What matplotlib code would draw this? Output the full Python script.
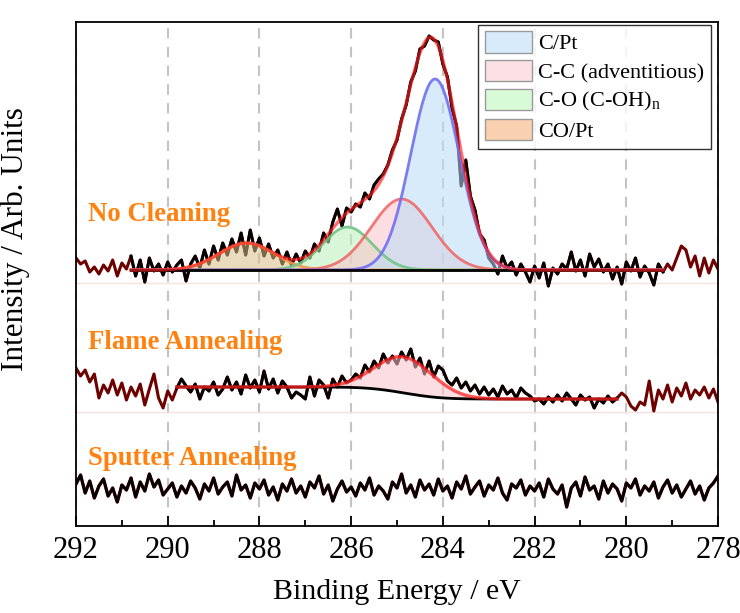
import numpy as np
import matplotlib
matplotlib.use('Agg')
import matplotlib.pyplot as plt
from matplotlib.patches import Patch
from matplotlib.ticker import MultipleLocator

plt.rcParams['font.family'] = ['Liberation Serif', 'DejaVu Serif']
plt.rcParams['mathtext.fontset'] = 'custom'
plt.rcParams['mathtext.rm'] = 'Liberation Serif'

# ---------------- data ----------------
be = np.round(np.linspace(292.0, 278.0, 141), 1)   # binding energy grid, eV

no_cleaning = [
    268, 262, 265, 254, 259, 252, 261, 255, 266, 250,
    263, 257, 270, 250, 266, 244, 268, 255, 262, 251,
    264, 254, 261, 266, 245, 262, 270, 258, 276, 262,
    280, 266, 283, 271, 287, 274, 293, 271, 296, 275,
    288, 270, 282, 268, 276, 262, 274, 261, 272, 263,
    275, 268, 282, 275, 293, 284, 304, 317, 300, 318,
    314, 322, 319, 333, 327, 341, 347, 352, 361, 376,
    386, 407, 421, 444, 455, 477, 480, 490, 486, 484,
    462, 449, 418, 400, 340, 366, 330, 316, 292, 286,
    268, 262, 252, 270, 258, 264, 251, 262, 254, 244,
    260, 248, 263, 240, 258, 252, 262, 257, 274, 255,
    266, 250, 272, 259, 267, 254, 262, 247, 259, 242,
    264, 255, 268, 249, 260, 253, 241, 262, 254, 262,
    256, 268, 280, 276, 259, 270, 250, 268, 253, 266,
    257]

flame_annealing = [
    158, 150, 156, 144, 152, 128, 141, 133, 146, 131,
    143, 126, 139, 130, 142, 121, 137, 152, 128, 118,
    135, 126, 138, 147, 140, 134, 142, 127, 139, 135,
    144, 131, 137, 149, 136, 144, 132, 151, 138, 146,
    134, 155, 137, 147, 133, 145, 139, 128, 134, 131,
    127, 149, 130, 146, 141, 128, 147, 139, 150, 143,
    146, 152, 148, 161, 154, 165, 158, 172, 163, 170,
    162, 174, 166, 177, 159, 168, 152, 165, 149, 160,
    156, 145, 141, 148, 138, 144, 135, 141, 132, 139,
    131, 137, 129, 140, 132, 136, 128, 138, 133, 130,
    125, 127, 122, 129, 124, 131, 125, 133, 127, 121,
    131, 126, 129, 118, 127, 123, 130, 124, 128, 133,
    129, 120, 116, 124, 121, 145, 115, 136, 127, 141,
    124, 138, 130, 143, 127, 136, 131, 139, 128, 137,
    124]

sputter_annealing = [
    42, 51, 33, 45, 28, 40, 47, 30, 38, 24,
    41, 36, 48, 29, 44, 35, 52, 39, 46, 31,
    37, 43, 29, 40, 33, 45, 38, 27, 42, 35,
    48, 32, 39, 44, 30, 51, 36, 41, 28, 43,
    37, 46, 31, 39, 26, 42, 35, 47, 33, 40,
    29, 44, 38, 50, 32, 41, 25, 37, 45, 34,
    39, 30, 43, 36, 48, 31, 40, 35, 27, 44,
    38, 52, 33, 41, 29, 46, 36, 42, 31, 47,
    35, 40, 28, 44, 37, 50, 32, 39, 45, 30,
    41, 36, 48, 33, 26, 42, 38, 46, 31, 40,
    35, 43, 29, 47, 37, 32, 41, 19, 38, 44,
    30, 49, 36, 40, 27, 45, 33, 42, 37, 25,
    43, 38, 47, 31, 40, 35, 44, 28, 39, 46,
    33, 41, 29, 37, 45, 32, 40, 26, 38, 43,
    50]

# fit results: No Cleaning (Gaussian components on a flat background)
nc_fit_range = (290.8, 279.2)
nc_background = 256
nc_zero_line = 243
comp_names = ['CO/Pt', r'C-O (C-OH)$_\mathregular{n}$', 'C-C (adventitious)', 'C/Pt']
nc_centers = [288.28, 286.08, 284.90, 284.17]
nc_heights = [27, 43, 71, 191]
nc_sigmas = [0.60, 0.54, 0.66, 0.53]

# fit results: Flame Annealing (one C-C component on a Shirley background)
fl_fit_range = (289.8, 280.2)
fl_bg_high, fl_bg_low = 139, 127
fl_zero_line = 114
fl_center, fl_height, fl_sigma = 284.85, 36, 0.63

sample_labels = ['No Cleaning', 'Flame Annealing', 'Sputter Annealing']
label_levels = [312, 184, 68]

# ---------------- styles ----------------
fill_colors = {'CO/Pt': '#d9be86', comp_names[1]: '#b8efb8',
               'C-C (adventitious)': '#fbc4cb', 'C/Pt': '#b9dcf6'}
line_colors = {'CO/Pt': '#f09a4a', comp_names[1]: '#72c486',
               'C-C (adventitious)': '#f06a6a', 'C/Pt': '#6f6ff2'}
legend_colors = {'C/Pt': '#d7ebfb', 'C-C (adventitious)': '#fde0e3',
                 comp_names[1]: '#d6fbd6', 'CO/Pt': '#f9d1b0'}
maroon = '#6e0000'
orange = '#ff8210'


def gauss(x, c, h, s):
    return h * np.exp(-0.5 * ((x - c) / s) ** 2)


fig = plt.figure(figsize=(7.4, 6.13), dpi=100)
ax = fig.add_axes([0.1027, 0.1419, 0.8676, 0.8222])

be_arr = np.array(be)

# ---- No Cleaning ----
nc = np.array(no_cleaning, dtype=float)
ax.axhline(nc_zero_line, color='#fbe3dc', lw=1, zorder=1)
ax.plot(be_arr, nc, color=maroon, lw=2.2, zorder=2)
m = (be_arr <= nc_fit_range[0] + 1e-6) & (be_arr >= nc_fit_range[1] - 1e-6)
ax.plot(be_arr[m], nc[m], color='k', lw=2, zorder=3)
xf = np.linspace(nc_fit_range[0], nc_fit_range[1], 600)
env = np.full_like(xf, nc_background, dtype=float)
for name, c, h, s in zip(comp_names, nc_centers, nc_heights, nc_sigmas):
    g = gauss(xf, c, h, s)
    env += g
    ax.fill_between(xf, nc_background, nc_background + g,
                    color=fill_colors[name], alpha=0.55, lw=0, zorder=4)
    ax.plot(xf, nc_background + g, color=line_colors[name], lw=2, alpha=0.9, zorder=5)
ax.plot(xf, np.full_like(xf, nc_background), color='k', lw=2, zorder=6)
ax.plot(xf, env, color='#ff2020', lw=2.4, alpha=0.65, zorder=7)

# ---- Flame Annealing ----
fl = np.array(flame_annealing, dtype=float)
ax.axhline(fl_zero_line, color='#fbe0e0', lw=1, zorder=1)
ax.plot(be_arr, fl, color=maroon, lw=2.2, zorder=2)
m = (be_arr <= fl_fit_range[0] + 1e-6) & (be_arr >= fl_fit_range[1] - 1e-6)
ax.plot(be_arr[m], fl[m], color='k', lw=2, zorder=3)
xf = np.linspace(fl_fit_range[0], fl_fit_range[1], 600)
pk = gauss(xf, fl_center, fl_height, fl_sigma)
cum = np.cumsum(pk[::-1])[::-1]
bg = fl_bg_low + (fl_bg_high - fl_bg_low) * cum / cum[0]
ax.fill_between(xf, bg, bg + pk, color=fill_colors['C-C (adventitious)'],
                alpha=0.55, lw=0, zorder=4)
ax.plot(xf, bg, color='k', lw=2, zorder=6)
ax.plot(xf, bg + pk, color='#ff2020', lw=2.4, alpha=0.75, zorder=7)

# ---- Sputter Annealing ----
sp = np.array(sputter_annealing, dtype=float)
ax.plot(be_arr, sp, color=maroon, lw=2.4, zorder=2)
ax.plot(be_arr, sp, color='k', lw=1.9, zorder=3)

# ---- labels ----
for lab, lev in zip(sample_labels, label_levels):
    ax.text(291.74, lev, lab, color=orange, fontsize=19.3, fontweight='bold',
            va='center', ha='left', zorder=8)

# ---- axes ----
ax.set_xlim(292, 278)
ax.set_ylim(0, 504)
ax.set_xticks(np.arange(292, 277, -2))
ax.xaxis.set_minor_locator(MultipleLocator(1))
ax.set_yticks([])
ax.tick_params(axis='x', which='major', direction='in', length=7, width=1.3,
               labelsize=22, pad=7)
ax.tick_params(axis='x', which='minor', direction='in', length=4, width=1.3)
for sp_ in ax.spines.values():
    sp_.set_linewidth(1.3)
ax.grid(axis='x', which='major', color='#c4c4c4', lw=1.5, linestyle=(0, (5, 4)), zorder=0)
ax.set_axisbelow(True)
ax.set_xlabel('Binding Energy / eV', fontsize=21.5, labelpad=10)
ax.set_ylabel('Intensity / Arb. Units', fontsize=22.5)
ax.yaxis.set_label_coords(-0.072, 0.57)

labels = ['C/Pt', 'C-C (adventitious)', comp_names[1], 'CO/Pt']
handles = [Patch(facecolor=legend_colors[n], edgecolor='#9a9a9a', lw=1) for n in labels]
leg = ax.legend(handles, labels, loc='upper right', fontsize=16, frameon=True,
                fancybox=False, edgecolor='k', handlelength=2.1, handleheight=1.1,
                borderaxespad=0.0, labelspacing=0.25, handletextpad=0.3,
                borderpad=0.3, bbox_to_anchor=(0.989, 0.995))
leg.get_frame().set_linewidth(1.0)
leg.set_zorder(10)

fig.savefig('out.png', dpi=100)
